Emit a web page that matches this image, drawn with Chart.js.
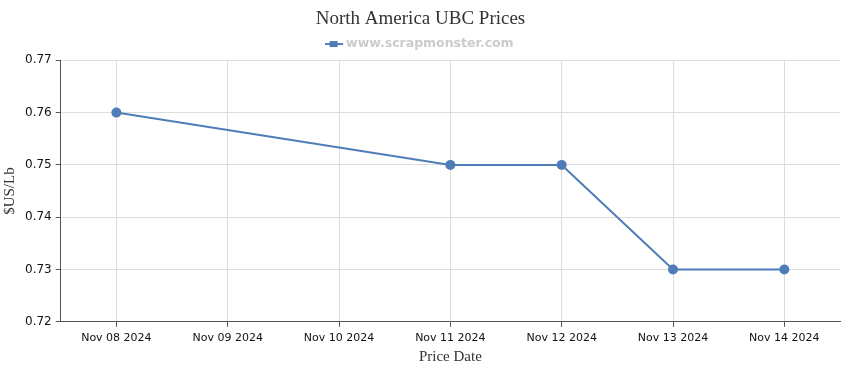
<!DOCTYPE html>
<html>
<head>
  <title>North America UBC Prices</title>
  <script src="https://cdn.jsdelivr.net/npm/chart.js"></script>
  <style>
    html, body { margin: 0; padding: 0; background: #fff; }
    #wrap { position: relative; width: 850px; height: 370px; }
  </style>
</head>
<body>
  <div id="wrap"><canvas id="ubc-chart"></canvas></div>
  <script>
    var priceDates = ["Nov 08 2024", "Nov 09 2024", "Nov 10 2024", "Nov 11 2024", "Nov 12 2024", "Nov 13 2024", "Nov 14 2024"];
    var ubcPrices = [0.76, null, null, 0.75, 0.75, 0.73, 0.73];
    var yTicks = [0.72, 0.73, 0.74, 0.75, 0.76, 0.77];

    var lineColor = "#4f7db8";
    var serif = "Liberation Serif";

    // legend marker: short line with a square in the middle
    var marker = document.createElement("canvas");
    marker.width = 18;
    marker.height = 8;
    var mctx = marker.getContext("2d");
    mctx.fillStyle = lineColor;
    mctx.fillRect(0, 3, 18, 2);
    mctx.fillRect(5, 1, 8, 6);

    new Chart(document.getElementById("ubc-chart").getContext("2d"), {
      type: "line",
      data: {
        labels: priceDates,
        datasets: [{
          label: "www.scrapmonster.com",
          data: ubcPrices,
          borderColor: lineColor,
          backgroundColor: lineColor,
          borderWidth: 2,
          pointRadius: 4,
          pointHoverRadius: 4,
          spanGaps: true,
          tension: 0
        }]
      },
      options: {
        responsive: true,
        maintainAspectRatio: false,
        animation: false,
        layout: { padding: { left: 1, right: 10, top: 5, bottom: 4 } },
        plugins: {
          title: {
            display: true,
            text: "North America UBC Prices",
            color: "#333",
            font: { family: serif, size: 19, weight: "normal" },
            padding: { top: 3, bottom: 0 }
          },
          legend: {
            display: true,
            labels: {
              color: "#cccccc",
              font: { family: "DejaVu Sans", size: 12.5, weight: "bold" },
              usePointStyle: true,
              padding: 7,
              generateLabels: function (chart) {
                return [{
                  text: chart.data.datasets[0].label,
                  pointStyle: marker,
                  fillStyle: lineColor,
                  strokeStyle: lineColor,
                  lineWidth: 0,
                  fontColor: "#cccccc",
                  datasetIndex: 0
                }];
              }
            }
          },
          tooltip: { enabled: false }
        },
        scales: {
          x: {
            offset: true,
            grid: { color: "#dddddd", tickLength: 5, tickColor: "#555" },
            border: { color: "#555", width: 1 },
            ticks: { color: "#111", font: { family: "DejaVu Sans", size: 11 }, maxRotation: 0, autoSkip: false, padding: 5 },
            title: {
              display: true,
              text: "Price Date",
              color: "#333",
              font: { family: serif, size: 15 },
              padding: { top: -2, bottom: 0 }
            }
          },
          y: {
            min: 0.72,
            max: 0.77,
            afterBuildTicks: function (scale) {
              scale.ticks = yTicks.map(function (v) { return { value: v }; });
            },
            grid: { color: "#dddddd", tickLength: 5, tickColor: "#555" },
            border: { color: "#555", width: 1 },
            ticks: {
              color: "#111",
              font: { family: "DejaVu Sans", size: 12 },
              padding: 4,
              callback: function (v) { return v.toFixed(2); }
            },
            title: {
              display: true,
              text: "$US/Lb",
              color: "#333",
              font: { family: serif, size: 15 },
              padding: { top: 0, bottom: 2 }
            }
          }
        }
      }
    });
  </script>
</body>
</html>
